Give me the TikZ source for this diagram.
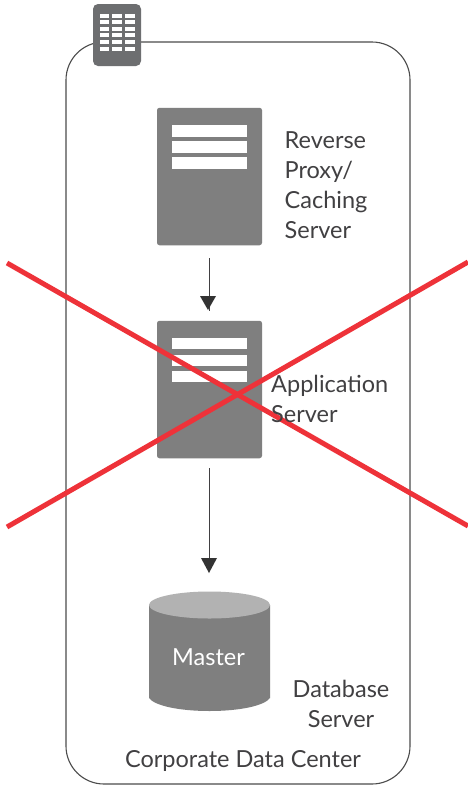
\documentclass[tikz,border=0pt]{standalone}
\usepackage{fontspec}
\setmainfont{Lato}
\definecolor{boxgrey}{HTML}{7F7F7F}
\definecolor{icongrey}{HTML}{6D6E70}
\definecolor{cyltop}{HTML}{B2B2B2}
\definecolor{crossred}{HTML}{EE3239}
\definecolor{inkgrey}{HTML}{414042}
\begin{document}
\begin{tikzpicture}[x=1pt,y=-1pt,
  serverbox/.style={draw=none,fill=boxgrey,rounded corners=2.5pt,minimum width=105pt,minimum height=137.5pt,inner sep=0pt},
  bar/.style={fill=white,draw=none},
  cell/.style={fill=white,draw=none},
  label/.style={text=inkgrey,font=\fontsize{23.5}{30}\selectfont,align=left,inner sep=0pt},
  flow/.style={draw=inkgrey,line width=1.1pt,shorten <=13pt,shorten >=10pt},
  tiphead/.style={fill=black!80,draw=none},
  crossline/.style={draw=crossred,line width=5pt}]
\useasboundingbox (0,0) rectangle (468,785);
\fill[white] (0,0) rectangle (468,785);
% frame
\draw[draw=black!70,line width=1.1pt,rounded corners=38pt] (66,42) rectangle (410,784);
% icon
\node[fill=icongrey,rounded corners=5pt,minimum width=48pt,minimum height=62pt,inner sep=0pt] (icon) at (117,35) {};
\foreach \yy in {13.7,20.2,26.8,33.4,40,46.7}{
  \foreach \xx in {99.5,112.3,125}{
    \fill[cell] (\xx,\yy) rectangle ++(9.7,3.8);
  }
}
% servers
\node[serverbox] (proxy) at (209.5,176.5) {};
\fill[bar] (172,125) rectangle (247,137);
\fill[bar] (172,141) rectangle (247,153);
\fill[bar] (172,157) rectangle (247,169);
\node[serverbox] (app) at (209.5,389.5) {};
\fill[bar] (172,338) rectangle (247,349);
\fill[bar] (172,355) rectangle (247,366);
\fill[bar] (172,371) rectangle (247,382);
% cylinder
\path[fill=boxgrey] (149,605) -- (149,698) .. controls (155,706) and (180,711) .. (209.5,711) .. controls (239,711) and (264,706) .. (270,698) -- (270,605) -- cycle;
\fill[cyltop] (209.5,605) ellipse[x radius=60.5,y radius=13.5];
% arrows
\draw[flow] (proxy.south) -- (app.north);
\fill[tiphead] (200,296) -- (216,296) -- (208,310) -- cycle;
\coordinate (dbn) at (209.5,592);
\draw[flow,shorten <=10pt,shorten >=30pt] (app.south) -- (dbn);
\fill[tiphead] (201,558) -- (217,558) -- (209,573) -- cycle;
% cross
\coordinate (c1) at (7,263);
\coordinate (c2) at (468,526);
\coordinate (c3) at (7,527);
\coordinate (c4) at (468,262);
\draw[crossline] (c1) -- (c2);
\draw[crossline] (c3) -- (c4);
% labels
\node[label,anchor=north west] (l1) at (284.5,131) {Reverse\\Proxy/\\Caching\\Server};
\node[label,anchor=north west] (l2) at (271,375) {Application\\Server};
\node[label,align=center,anchor=north] (l3) at (341,680) {Database\\Server};
\node[label,text=white] (l4) at (208.5,657) {Master};
\node[label] (l5) at (243,761) {Corporate Data Center};
\end{tikzpicture}
\end{document}
